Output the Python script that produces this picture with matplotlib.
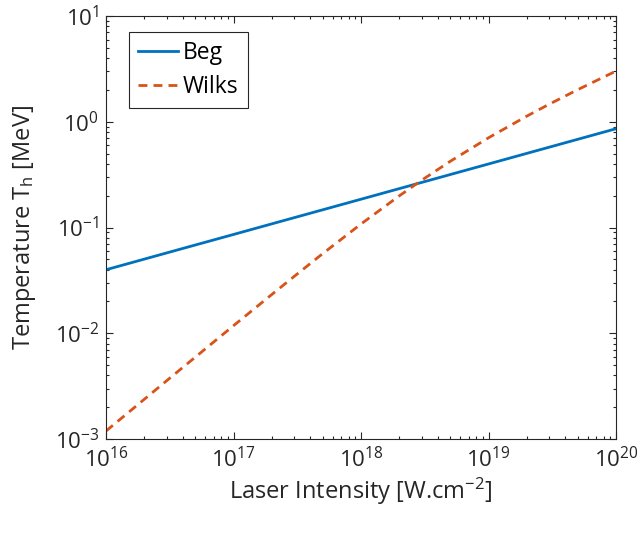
import numpy as np
from matplotlib import pyplot as plt
from matplotlib.ticker import LogLocator, NullFormatter

# values
intensity = [1e16, 2e16, 3e16, 5e16, 1e17, 2e17, 3e17, 5e17, 1e18, 2e18,
             3e18, 5e18, 1e19, 2e19, 3e19, 5e19, 1e20]
beg = [0.0399, 0.0503, 0.0576, 0.0683, 0.086, 0.1084, 0.1241, 0.1471, 0.1853,
       0.2335, 0.2673, 0.3169, 0.3992, 0.503, 0.5758, 0.6827, 0.86]
wilks = [0.00119, 0.00238, 0.00357, 0.00593, 0.0118, 0.0233, 0.0346, 0.0566,
         0.108, 0.1997, 0.2809, 0.4223, 0.7059, 1.1324, 1.4691, 2.011, 3.018]

plt.rcParams['font.family'] = ['Open Sans', 'DejaVu Sans']
plt.rcParams['axes.unicode_minus'] = False
plt.rcParams['mathtext.fontset'] = 'custom'
plt.rcParams['mathtext.rm'] = 'Open Sans'
plt.rcParams['mathtext.default'] = 'regular'
axcol = '#262626'

fig = plt.figure(figsize=(6.41, 5.34), dpi=100)
ax = fig.add_axes([0.1654, 0.1779, 0.7956, 0.792])
ax.loglog(intensity, beg, '-', color='#0072BD', lw=2, label='Beg')
ax.loglog(intensity, wilks, '--', color='#D95319', lw=2, label='Wilks',
          dashes=(3.2, 2.2))
ax.set_xlim(1e16, 1e20)
ax.set_ylim(1e-3, 1e1)

ax.xaxis.set_major_locator(LogLocator(base=10, numticks=10))
ax.yaxis.set_major_locator(LogLocator(base=10, numticks=10))
ax.xaxis.set_minor_locator(LogLocator(base=10, subs=np.arange(2, 10), numticks=20))
ax.yaxis.set_minor_locator(LogLocator(base=10, subs=np.arange(2, 10), numticks=20))
ax.xaxis.set_minor_formatter(NullFormatter())
ax.yaxis.set_minor_formatter(NullFormatter())
ax.tick_params(which='both', direction='in', top=True, right=True,
               color=axcol, labelcolor=axcol, labelsize=16, width=0.8)
ax.tick_params(which='major', length=5)
ax.tick_params(which='minor', length=2.5)
ax.tick_params(axis='x', pad=6)
ax.tick_params(axis='y', pad=5)
for s in ax.spines.values():
    s.set_color(axcol)
    s.set_linewidth(0.8)

ax.set_xlabel('Laser Intensity [W.cm$^{-2}$]', fontsize=17, color=axcol, labelpad=2)
ax.set_ylabel('Temperature T$_{h}$ [MeV]', fontsize=17, color=axcol, labelpad=12)

leg = ax.legend(loc='upper left', bbox_to_anchor=(0.045, 0.963), fontsize=16.5,
                fancybox=False, edgecolor=axcol, framealpha=1, handlelength=1.75,
                handletextpad=0.2, borderpad=0.4, labelspacing=0.45,
                borderaxespad=0)
leg.get_frame().set_linewidth(0.8)

fig.savefig('out.png', dpi=100)
